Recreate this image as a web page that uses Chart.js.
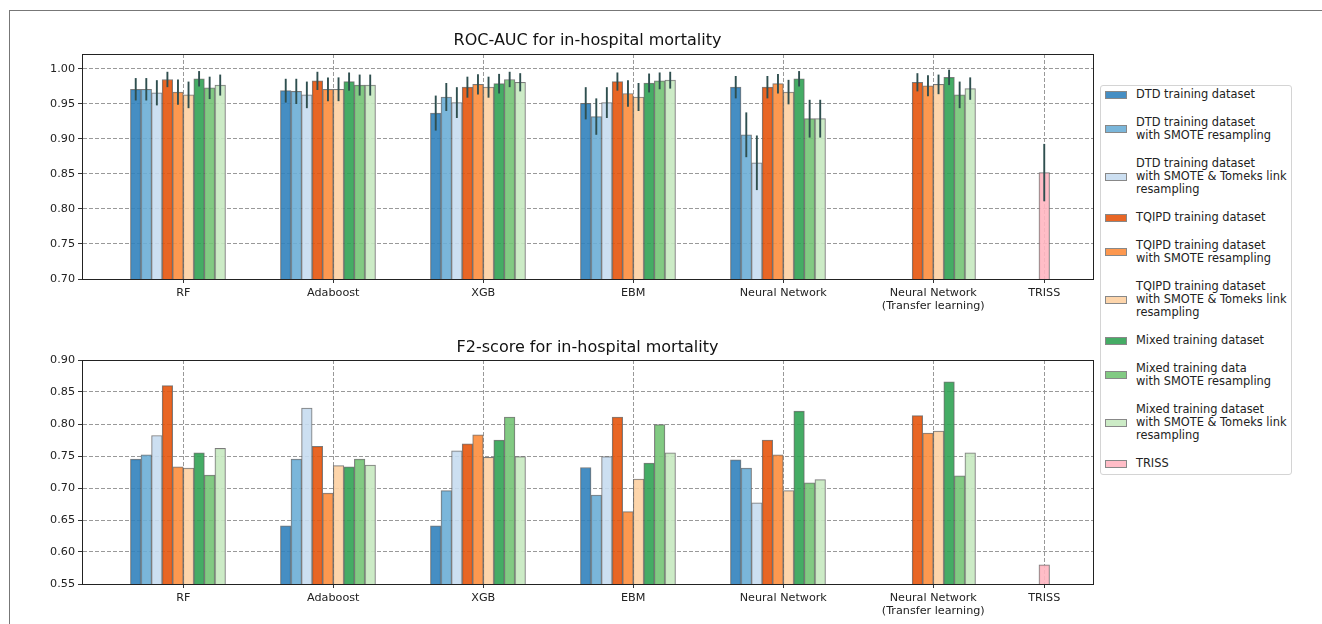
<!DOCTYPE html>
<html>
<head>
<meta charset="utf-8">
<script src="https://cdn.jsdelivr.net/npm/chart.js@4.4.1/dist/chart.umd.min.js"></script>
<style>
	body { margin: 0; background: #fff; font-family: 'DejaVu Sans', sans-serif; }
	#wrap { position: relative; width: 1322px; height: 624px; overflow: hidden; }
	#frame { position: absolute; left: 9px; top: 10px; width: 1320px; height: 620px; border-top: 1px solid #777; border-left: 1px solid #777; }
	canvas { position: absolute; left: 0; }
	#roc { top: 0; }
	#f2 { top: 320px; }
	#legend { position: absolute; left: 1100px; top: 85px; width: 190px; padding: 2px 0 4px; border: 1px solid #d4d4d4; border-radius: 3px; background: #fff; display: flex; flex-direction: column; gap: 15px; }
	.item { display: flex; align-items: center; }
	.swatch { width: 20px; height: 6px; margin: 0 9px 0 4px; border: 1px solid #888; flex: none; }
	.text { font-size: 11.4px; line-height: 13px; color: #222; white-space: pre; }
</style>
</head>
<body>
<div id="wrap">
	<div id="frame"></div>
	<canvas id="roc" width="1100" height="320"></canvas>
	<canvas id="f2" width="1100" height="304"></canvas>
	<div id="legend"></div>
</div>
<script>
const categories = ['RF', 'Adaboost', 'XGB', 'EBM', 'Neural Network', ['Neural Network', '(Transfer learning)'], 'TRISS']
const categoryPositions = [0, 1, 2, 3, 4, 5, 5.74]

const seriesLabels = [
	'DTD training dataset',
	'DTD training dataset\nwith SMOTE resampling',
	'DTD training dataset\nwith SMOTE & Tomeks link\nresampling',
	'TQIPD training dataset',
	'TQIPD training dataset\nwith SMOTE resampling',
	'TQIPD training dataset\nwith SMOTE & Tomeks link\nresampling',
	'Mixed training dataset',
	'Mixed training data\nwith SMOTE resampling',
	'Mixed training dataset\nwith SMOTE & Tomeks link\nresampling',
	'TRISS',
]
const seriesColors = ['#3182bd', '#6baed6', '#c6dbef', '#e6550d', '#fd8d3c', '#fdd0a2', '#31a354', '#74c476', '#c7e9c0', '#ffb6c1']

// ROC-AUC (mean) per series, one value per category
const dtdRoc = [0.971, 0.969, 0.937, 0.951, 0.974, null, null]
const dtdSmoteRoc = [0.971, 0.968, 0.960, 0.932, 0.906, null, null]
const dtdTomekRoc = [0.966, 0.963, 0.952, 0.952, 0.866, null, null]
const tqipdRoc = [0.985, 0.983, 0.974, 0.982, 0.974, 0.981, null]
const tqipdSmoteRoc = [0.967, 0.971, 0.978, 0.965, 0.979, 0.976, null]
const tqipdTomekRoc = [0.963, 0.971, 0.974, 0.960, 0.967, 0.978, null]
const mixedRoc = [0.986, 0.982, 0.979, 0.980, 0.986, 0.988, null]
const mixedSmoteRoc = [0.973, 0.977, 0.985, 0.983, 0.929, 0.963, null]
const mixedTomekRoc = [0.977, 0.977, 0.981, 0.984, 0.929, 0.972, null]
const trissRoc = [null, null, null, null, null, null, 0.852]

// ROC-AUC error (half length of the error bar)
const dtdRocErr = [0.016, 0.017, 0.025, 0.023, 0.016, null, null]
const dtdSmoteRocErr = [0.016, 0.018, 0.020, 0.026, 0.032, null, null]
const dtdTomekRocErr = [0.018, 0.019, 0.022, 0.022, 0.039, null, null]
const tqipdRocErr = [0.011, 0.013, 0.015, 0.013, 0.016, 0.013, null]
const tqipdSmoteRocErr = [0.018, 0.017, 0.0145, 0.019, 0.014, 0.015, null]
const tqipdTomekRocErr = [0.019, 0.017, 0.015, 0.020, 0.0175, 0.014, null]
const mixedRocErr = [0.011, 0.013, 0.014, 0.0135, 0.011, 0.011, null]
const mixedSmoteRocErr = [0.016, 0.015, 0.011, 0.012, 0.027, 0.019, null]
const mixedTomekRocErr = [0.015, 0.015, 0.013, 0.012, 0.027, 0.016, null]
const trissRocErr = [null, null, null, null, null, null, 0.041]

// F2-score per series
const dtdF2 = [0.745, 0.641, 0.641, 0.732, 0.744, null, null]
const dtdSmoteF2 = [0.752, 0.745, 0.696, 0.689, 0.731, null, null]
const dtdTomekF2 = [0.782, 0.825, 0.758, 0.749, 0.677, null, null]
const tqipdF2 = [0.860, 0.765, 0.769, 0.811, 0.775, 0.813, null]
const tqipdSmoteF2 = [0.733, 0.692, 0.783, 0.663, 0.752, 0.786, null]
const tqipdTomekF2 = [0.731, 0.735, 0.748, 0.714, 0.696, 0.789, null]
const mixedF2 = [0.755, 0.733, 0.775, 0.739, 0.820, 0.866, null]
const mixedSmoteF2 = [0.720, 0.745, 0.811, 0.799, 0.708, 0.719, null]
const mixedTomekF2 = [0.762, 0.736, 0.749, 0.755, 0.713, 0.755, null]
const trissF2 = [null, null, null, null, null, null, 0.580]

const rocSeries = [dtdRoc, dtdSmoteRoc, dtdTomekRoc, tqipdRoc, tqipdSmoteRoc, tqipdTomekRoc, mixedRoc, mixedSmoteRoc, mixedTomekRoc, trissRoc]
const rocErrors = [dtdRocErr, dtdSmoteRocErr, dtdTomekRocErr, tqipdRocErr, tqipdSmoteRocErr, tqipdTomekRocErr, mixedRocErr, mixedSmoteRocErr, mixedTomekRocErr, trissRocErr]
const f2Series = [dtdF2, dtdSmoteF2, dtdTomekF2, tqipdF2, tqipdSmoteF2, tqipdTomekF2, mixedF2, mixedSmoteF2, mixedTomekF2, trissF2]

Chart.defaults.font.family = "'DejaVu Sans', sans-serif"
Chart.defaults.font.size = 11.2
Chart.defaults.color = '#222'

function fade(hex, a) {
	const n = parseInt(hex.slice(1), 16)
	return `rgba(${n >> 16}, ${(n >> 8) & 255}, ${n & 255}, ${a})`
}

function buildDatasets(values, errors) {
	return seriesLabels.map((label, i) => ({
		label,
		data: categoryPositions.map((x, j) => ({ x, y: values[i][j] })),
		errors: errors ? errors[i] : null,
		backgroundColor: fade(seriesColors[i], 0.9),
		borderColor: 'rgba(100, 100, 100, 0.85)',
		borderWidth: 1,
		barThickness: 10.56,
		// TRISS sits alone at its tick, so it only counts itself
		skipNull: label === 'TRISS',
	}))
}

const errorBars = {
	id: 'errorBars',
	afterDatasetsDraw(chart) {
		const { ctx } = chart
		const yScale = chart.scales.y
		chart.data.datasets.forEach((ds, i) => {
			if (!ds.errors) return
			chart.getDatasetMeta(i).data.forEach((bar, j) => {
				const v = ds.data[j].y
				const e = ds.errors[j]
				if (v == null || e == null) return
				ctx.save()
				ctx.strokeStyle = '#2f4f4f'
				ctx.lineWidth = 1.9
				ctx.beginPath()
				ctx.moveTo(bar.x, yScale.getPixelForValue(v - e))
				ctx.lineTo(bar.x, yScale.getPixelForValue(v + e))
				ctx.stroke()
				ctx.restore()
			})
		})
	},
}

const frame = {
	id: 'frame',
	afterDraw(chart) {
		const { ctx, chartArea: a } = chart
		ctx.save()
		ctx.strokeStyle = '#222'
		ctx.lineWidth = 1
		ctx.strokeRect(a.left + 0.5, a.top + 0.5, a.right - a.left, a.bottom - a.top)
		ctx.restore()
	},
}

function makeOptions(title, yMin, yMax, titlePad, xHeight) {
	const dashed = { display: true, color: '#222', dash: [4, 2] }
	const grid = { color: '#999', tickColor: '#333', tickLength: 4, tickWidth: 1, offset: false }
	return {
		responsive: false,
		devicePixelRatio: 1,
		animation: false,
		layout: { padding: { left: 0, right: 7, top: 0, bottom: 0 } },
		plugins: {
			legend: { display: false },
			tooltip: { enabled: false },
			title: {
				display: true,
				text: title,
				fullSize: false,
				color: '#111',
				font: { size: 16, weight: 'normal', lineHeight: 1.25 },
				padding: titlePad,
			},
		},
		scales: {
			x: {
				type: 'linear',
				min: -0.675,
				max: 6.065,
				bounds: 'data',
				offset: false,
				grid,
				border: dashed,
				afterBuildTicks: (scale) => {
					scale.ticks = categoryPositions.map((value) => ({ value }))
				},
				afterFit: (scale) => {
					scale.height = xHeight
				},
				ticks: {
					autoSkip: false,
					maxRotation: 0,
					padding: 3,
					callback: (value, index) => categories[index],
				},
			},
			y: {
				min: yMin,
				max: yMax,
				bounds: 'data',
				beginAtZero: false,
				grid,
				border: dashed,
				afterFit: (scale) => {
					scale.width = 82
				},
				ticks: {
					stepSize: 0.05,
					includeBounds: false,
					padding: 3,
					callback: (v) => v.toFixed(2),
				},
			},
		},
	}
}

new Chart(document.getElementById('roc'), {
	type: 'bar',
	data: { datasets: buildDatasets(rocSeries, rocErrors) },
	options: makeOptions('ROC-AUC for in-hospital mortality', 0.7, 1.0214, { top: 31, bottom: 3 }, 41),
	plugins: [errorBars, frame],
})

new Chart(document.getElementById('f2'), {
	type: 'bar',
	data: { datasets: buildDatasets(f2Series, null) },
	options: makeOptions('F2-score for in-hospital mortality', 0.55, 0.9, { top: 18, bottom: 2 }, 40),
	plugins: [frame],
})

// legend box on the right, shared by both charts
document.getElementById('legend').innerHTML = seriesLabels
	.map(
		(label, i) => `<div class="item"><span class="swatch" style="background: ${fade(seriesColors[i], 0.9)}"></span><span class="text">${label.replace(/&/g, '&amp;')}</span></div>`
	)
	.join('')
</script>
</body>
</html>
